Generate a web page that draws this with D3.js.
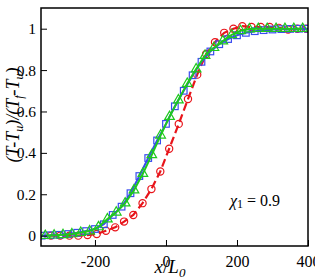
<!DOCTYPE html>
<html>
<head>
<meta charset="utf-8">
<script src="https://cdn.jsdelivr.net/npm/d3@7"></script>
<style>
body { margin: 0; background: #fff; }
svg text { font-family: "Liberation Serif", "Times New Roman", Times, "DejaVu Serif", serif; }
</style>
</head>
<body>
<div id="chart"></div>
<script>
// blue squares, solid line
var blueX = [-350, -325, -300, -275, -250, -225, -200, -175, -150, -125, -100, -75, -50, -25, 0, 25, 50, 75, 100, 125, 150, 175, 200, 225, 250, 275, 300, 325, 350, 375, 400];
var blueY = [0.0, 0.002, 0.004, 0.008, 0.014, 0.022, 0.032, 0.055, 0.1, 0.14, 0.205, 0.288, 0.375, 0.46, 0.54, 0.625, 0.7, 0.775, 0.84, 0.89, 0.925, 0.95, 0.968, 0.98, 0.988, 0.993, 0.996, 0.998, 0.999, 1.0, 1.0];
// green triangles
var greenX = [-340, -315, -290, -265, -240, -215, -190, -165, -140, -115, -90, -65, -40, -15, 10, 35, 60, 85, 110, 135, 160, 185, 210, 235, 260, 285, 310, 335, 360, 385];
var greenY = [0.0, 0.002, 0.004, 0.008, 0.015, 0.022, 0.042, 0.08, 0.113, 0.157, 0.22, 0.3, 0.39, 0.485, 0.575, 0.655, 0.735, 0.805, 0.87, 0.908, 0.94, 0.97, 0.99, 0.998, 1.0, 1.0, 1.0, 1.0, 1.0, 1.0];
// red circles, dashed line
var redX = [-324, -298, -272, -247, -221, -195, -169, -143, -118, -92, -66, -41, -16, 9, 36, 62, 88, 113, 138, 164, 190, 215, 241, 267, 292, 318, 344, 370, 395];
var redY = [0.0, 0.0, 0.0, 0.0, 0.003, 0.008, 0.024, 0.04, 0.068, 0.1, 0.157, 0.225, 0.31, 0.42, 0.54, 0.66, 0.778, 0.878, 0.935, 0.98, 1.0, 1.012, 1.008, 1.008, 1.008, 1.004, 0.996, 1.0, 1.0];

var xTicks = [-200, 0, 200, 400];
var yTicks = [0, 0.2, 0.4, 0.6, 0.8, 1];

var width = 315, height = 280;
var margin = {top: 8, right: 7, bottom: 34, left: 41};
var serif = '"Liberation Serif", "Times New Roman", Times, serif';

var svg = d3.select("#chart").append("svg")
    .attr("width", width)
    .attr("height", height)
    .attr("font-family", serif);

var x = d3.scaleLinear().domain([-352, 400]).range([margin.left, width - margin.right]);
var y = d3.scaleLinear().domain([-0.05, 1.1]).range([height - margin.bottom, margin.top]);

function pts(xs, ys) {
    var a = [];
    for (var i = 0; i < xs.length; i++) {
        a.push([xs[i], ys[i]]);
    }
    return a;
}

svg.append("clipPath").attr("id", "clip")
    .append("rect")
    .attr("x", margin.left).attr("y", margin.top)
    .attr("width", width - margin.left - margin.right)
    .attr("height", height - margin.top - margin.bottom);

var line = d3.line().x(function (d) { return x(d[0]); }).y(function (d) { return y(d[1]); });

var plot = svg.append("g").attr("clip-path", "url(#clip)");

var red = pts(redX, redY), blue = pts(blueX, blueY), green = pts(greenX, greenY);

plot.append("path").datum(red)
    .attr("fill", "none").attr("stroke", "#e8141a").attr("stroke-width", 2.2)
    .attr("stroke-dasharray", "8,4").attr("d", line);
plot.selectAll(".redpt").data(red).enter().append("circle")
    .attr("cx", function (d) { return x(d[0]); })
    .attr("cy", function (d) { return y(d[1]); })
    .attr("r", 3.6)
    .attr("fill", "none").attr("stroke", "#e8141a").attr("stroke-width", 1.2);

plot.append("path").datum(blue)
    .attr("fill", "none").attr("stroke", "#3a4cf0").attr("stroke-width", 2).attr("d", line);
plot.selectAll(".bluept").data(blue).enter().append("rect")
    .attr("x", function (d) { return x(d[0]) - 3.3; })
    .attr("y", function (d) { return y(d[1]) - 3.3; })
    .attr("width", 6.6).attr("height", 6.6)
    .attr("fill", "none").attr("stroke", "#3a4cf0").attr("stroke-width", 1.2);

plot.append("path").datum(green)
    .attr("fill", "none").attr("stroke", "#1ec81e").attr("stroke-width", 2).attr("d", line);
var tri = d3.symbol().type(d3.symbolTriangle).size(40);
plot.selectAll(".greenpt").data(green).enter().append("path")
    .attr("d", tri)
    .attr("transform", function (d) { return "translate(" + x(d[0]) + "," + y(d[1]) + ")"; })
    .attr("fill", "none").attr("stroke", "#1ec81e").attr("stroke-width", 1.2);

// axes with inward ticks
var xAxis = svg.append("g").attr("transform", "translate(0," + (height - margin.bottom) + ")");
xAxis.call(d3.axisBottom(x).tickValues(d3.range(-350, 401, 50)).tickSize(-3).tickFormat(""));
xAxis.call(d3.axisBottom(x).tickValues(xTicks).tickSize(-6).tickPadding(10)
    .tickFormat(function (d) { return d < 0 ? "-" + (-d) : d; }));
xAxis.selectAll("path").remove();

var yAxis = svg.append("g").attr("transform", "translate(" + margin.left + ",0)");
yAxis.call(d3.axisLeft(y).tickValues(d3.range(0, 1.09, 0.05)).tickSize(-3).tickFormat(""));
yAxis.call(d3.axisLeft(y).tickValues(yTicks).tickSize(-6).tickPadding(5)
    .tickFormat(d3.format("~g")));
yAxis.selectAll("path").remove();
xAxis.attr("font-family", serif);
yAxis.attr("font-family", serif);

svg.selectAll(".tick line").attr("stroke", "#000").attr("stroke-width", 1);
svg.selectAll(".tick text").attr("font-size", 16).attr("fill", "#000");
yAxis.selectAll(".tick text").attr("font-size", 15.5);

svg.append("rect")
    .attr("x", margin.left).attr("y", margin.top)
    .attr("width", width - margin.left - margin.right)
    .attr("height", height - margin.top - margin.bottom)
    .attr("fill", "none").attr("stroke", "#000").attr("stroke-width", 1.5);

// x label
var xl = svg.append("text")
    .attr("x", 170).attr("y", 273)
    .attr("text-anchor", "middle").attr("font-size", 19);
xl.append("tspan").attr("font-style", "italic").text("x");
xl.append("tspan").text("/");
xl.append("tspan").attr("font-style", "italic").text("L");
xl.append("tspan").attr("font-style", "italic").attr("font-size", 13).attr("dy", 4).text("0");

// y label
var yl = svg.append("text")
    .attr("transform", "translate(19,115) rotate(-90)")
    .attr("text-anchor", "middle").attr("font-size", 18).attr("font-style", "italic");
yl.append("tspan").text("(T-T");
yl.append("tspan").attr("font-size", 12).attr("dy", 4).text("u");
yl.append("tspan").attr("dy", -4).text(")/(T");
yl.append("tspan").attr("font-size", 12).attr("dy", 4).text("f");
yl.append("tspan").attr("dy", -4).text("-T");
yl.append("tspan").attr("font-size", 12).attr("dy", 4).text("u");
yl.append("tspan").attr("dy", -4).text(")");

// annotation
var ann = svg.append("text").attr("x", 230).attr("y", 206).attr("font-size", 16);
ann.append("tspan").attr("font-style", "italic").text("χ");
ann.append("tspan").attr("font-size", 12).attr("dy", 2).text("1");
ann.append("tspan").attr("dy", -2).text(" = 0.9");
</script>
</body>
</html>
